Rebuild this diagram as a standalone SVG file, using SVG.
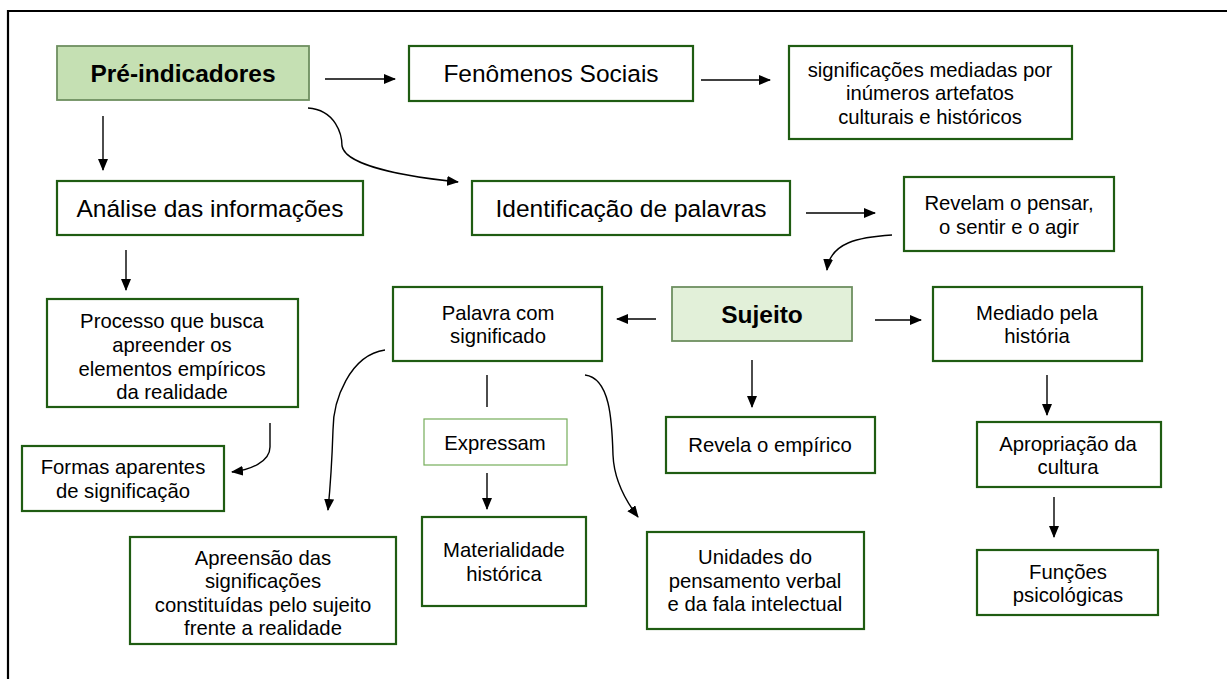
<svg xmlns="http://www.w3.org/2000/svg" width="1227" height="679" viewBox="0 0 1227 679">
<style>
.b{fill:#fff;stroke:#1f5c12;stroke-width:2.2}
.hl{fill:#c5e0b3;stroke:#6e8f60;stroke-width:1.8}
.hl2{fill:#e2f0d9;stroke:#6e8f60;stroke-width:1.8}
.lt{fill:#fff;stroke:#76ad5a;stroke-width:1.2}
text{font-family:"Liberation Sans",Arial,sans-serif;fill:#000;text-anchor:middle}
.t22{font-size:24.5px}
.t17{font-size:20.3px}
.bold{font-weight:bold}
.c{fill:none;stroke:#000;stroke-width:1.4}
</style>
<defs>
<marker id="ah" viewBox="0 0 12 10" refX="11" refY="5" markerWidth="12" markerHeight="10" markerUnits="userSpaceOnUse" orient="auto">
<path d="M0,0 L12,5 L0,10 z" fill="#000"/>
</marker>
</defs>
<rect width="1227" height="679" fill="#fff"/>
<path d="M8 679 L8 11 L1227 11" fill="none" stroke="#000" stroke-width="2.2"/>

<g id="connectors">
<path class="c" d="M103 116 L103 170" marker-end="url(#ah)"/>
<path class="c" d="M325 79 L395 79" marker-end="url(#ah)"/>
<path class="c" d="M701 80 L770 80" marker-end="url(#ah)"/>
<path class="c" d="M308 108 C336 110 342 135 342 146 C346 168 420 178 458 182" marker-end="url(#ah)"/>
<path class="c" d="M806 213 L875 213" marker-end="url(#ah)"/>
<path class="c" d="M892 235 C860 237 830 242 827 270" marker-end="url(#ah)"/>
<path class="c" d="M126 250 L126 290" marker-end="url(#ah)"/>
<path class="c" d="M656 319 L617 319" marker-end="url(#ah)"/>
<path class="c" d="M875 320 L921 320" marker-end="url(#ah)"/>
<path class="c" d="M752 360 L752 407" marker-end="url(#ah)"/>
<path class="c" d="M487 375 L487 407"/>
<path class="c" d="M487 473 L487 509" marker-end="url(#ah)"/>
<path class="c" d="M585 375 C610 378 612 420 613 455 C614 480 625 500 638 517" marker-end="url(#ah)"/>
<path class="c" d="M385 350 C350 355 333 400 333 430 C332 460 330 490 328 510" marker-end="url(#ah)"/>
<path class="c" d="M270 423 L270 447 C270 462 250 470 232 472" marker-end="url(#ah)"/>
<path class="c" d="M1047 375 L1047 415" marker-end="url(#ah)"/>
<path class="c" d="M1054 497 L1054 537" marker-end="url(#ah)"/>
</g>

<g id="pre-indicadores">
<rect class="hl" x="57" y="46" width="252" height="54"/>
<text class="t22 bold" x="183" y="82">Pré-indicadores</text>
</g>
<g id="fenomenos">
<rect class="b" x="409" y="46" width="284" height="55"/>
<text class="t22" x="551" y="82">Fenômenos Sociais</text>
</g>
<g id="significacoes">
<rect class="b" x="789" y="46" width="283" height="93"/>
<text class="t17" x="930" y="77">significações mediadas por</text>
<text class="t17" x="930" y="100">inúmeros artefatos</text>
<text class="t17" x="930" y="124">culturais e históricos</text>
</g>
<g id="analise">
<rect class="b" x="57" y="181" width="306" height="54"/>
<text class="t22" x="210" y="217">Análise das informações</text>
</g>
<g id="identificacao">
<rect class="b" x="472" y="181" width="318" height="54"/>
<text class="t22" x="631" y="217">Identificação de palavras</text>
</g>
<g id="revelam">
<rect class="b" x="904" y="177" width="210" height="74"/>
<text class="t17" x="1009" y="210">Revelam o pensar,</text>
<text class="t17" x="1009" y="234">o sentir e o agir</text>
</g>
<g id="processo">
<rect class="b" x="47" y="299" width="251" height="108"/>
<text class="t17" x="172" y="328">Processo que busca</text>
<text class="t17" x="172" y="352">apreender os</text>
<text class="t17" x="172" y="376">elementos empíricos</text>
<text class="t17" x="172" y="399">da realidade</text>
</g>
<g id="palavra">
<rect class="b" x="393" y="287" width="209" height="74"/>
<text class="t17" x="498" y="320">Palavra com</text>
<text class="t17" x="498" y="343">significado</text>
</g>
<g id="sujeito">
<rect class="hl2" x="672" y="287" width="180" height="54"/>
<text class="t22 bold" x="762" y="323">Sujeito</text>
</g>
<g id="mediado">
<rect class="b" x="933" y="287" width="209" height="74"/>
<text class="t17" x="1037" y="320">Mediado pela</text>
<text class="t17" x="1037" y="343">história</text>
</g>
<g id="formas">
<rect class="b" x="22" y="446" width="202" height="65"/>
<text class="t17" x="123" y="474">Formas aparentes</text>
<text class="t17" x="123" y="498">de significação</text>
</g>
<g id="expressam">
<rect class="lt" x="424" y="419" width="143" height="46"/>
<text class="t17" x="495" y="450">Expressam</text>
</g>
<g id="revela">
<rect class="b" x="666" y="417" width="209" height="56"/>
<text class="t17" x="770" y="452">Revela o empírico</text>
</g>
<g id="apropriacao">
<rect class="b" x="977" y="422" width="184" height="65"/>
<text class="t17" x="1068" y="451">Apropriação da</text>
<text class="t17" x="1068" y="474">cultura</text>
</g>
<g id="materialidade">
<rect class="b" x="422" y="517" width="164" height="89"/>
<text class="t17" x="504" y="557">Materialidade</text>
<text class="t17" x="504" y="581">histórica</text>
</g>
<g id="unidades">
<rect class="b" x="647" y="532" width="217" height="97"/>
<text class="t17" x="755" y="564">Unidades do</text>
<text class="t17" x="755" y="588">pensamento verbal</text>
<text class="t17" x="755" y="611">e da fala intelectual</text>
</g>
<g id="apreensao">
<rect class="b" x="130" y="537" width="266" height="107"/>
<text class="t17" x="263" y="565">Apreensão das</text>
<text class="t17" x="263" y="588">significações</text>
<text class="t17" x="263" y="612">constituídas pelo sujeito</text>
<text class="t17" x="263" y="635">frente a realidade</text>
</g>
<g id="funcoes">
<rect class="b" x="977" y="550" width="181" height="65"/>
<text class="t17" x="1068" y="579">Funções</text>
<text class="t17" x="1068" y="602">psicológicas</text>
</g>
</svg>
